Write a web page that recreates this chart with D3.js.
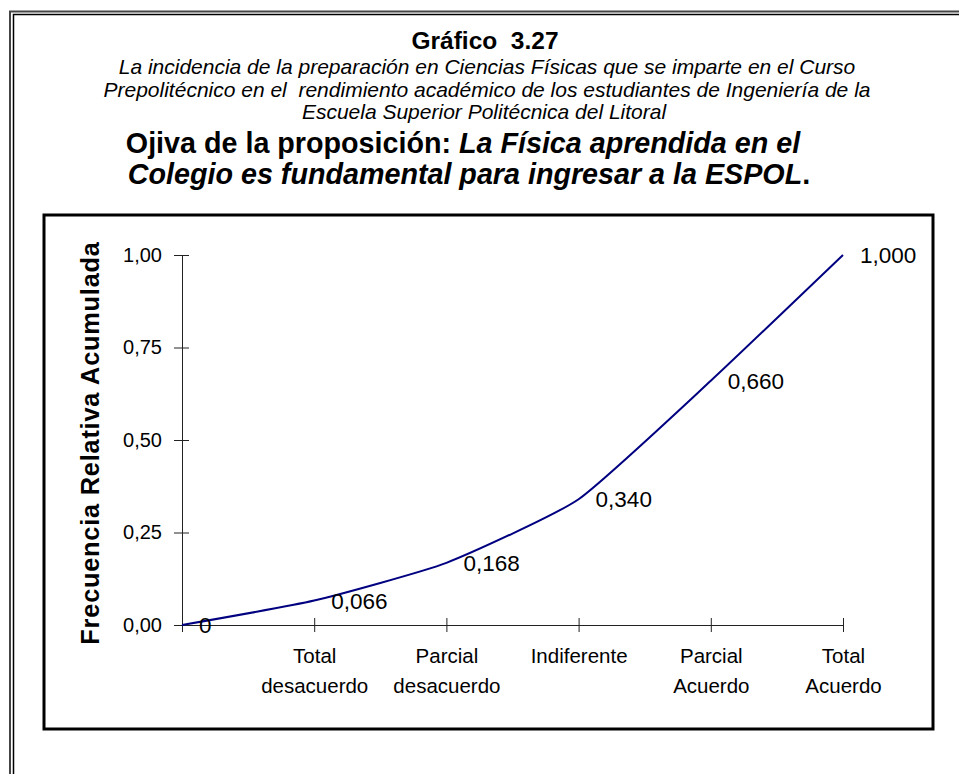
<!DOCTYPE html>
<html>
<head>
<meta charset="utf-8">
<script src="https://cdn.jsdelivr.net/npm/d3@7"></script>
<style>
  body { margin: 0; background: #fff; }
  svg { display: block; font-family: "Liberation Sans", Arial, sans-serif; }
</style>
</head>
<body>
<svg id="chart"></svg>
<script>
// cumulative relative frequency (ojiva)
const categories = ["", "Total|desacuerdo", "Parcial|desacuerdo", "Indiferente", "Parcial|Acuerdo", "Total|Acuerdo"];
const values = [0, 0.066, 0.168, 0.340, 0.660, 1.000];
const valueLabels = ["0", "0,066", "0,168", "0,340", "0,660", "1,000"];
const yTicks = [0, 0.25, 0.5, 0.75, 1];

const width = 959, height = 774;
const svg = d3.select("#chart").attr("width", width).attr("height", height);

// outer double frame (runs off the page on the right and bottom)
svg.append("rect").attr("x", 10).attr("y", 11.5).attr("width", 1000).attr("height", 1000)
  .attr("fill", "none").attr("stroke", "#444").attr("stroke-width", 2);
svg.append("rect").attr("x", 13.5).attr("y", 14.5).attr("width", 1000).attr("height", 1000)
  .attr("fill", "none").attr("stroke", "#000").attr("stroke-width", 1.5);

// titles
const titles = svg.append("g").attr("text-anchor", "middle").attr("fill", "#000");
titles.append("text").attr("x", 485).attr("y", 49)
  .attr("font-size", 24.5).attr("font-weight", "bold")
  .style("white-space", "pre").text("Gráfico  3.27");
const sub = [
  "La incidencia de la preparación en Ciencias Físicas que se imparte en el Curso",
  "Prepolitécnico en el  rendimiento académico de los estudiantes de Ingeniería de la",
  "Escuela Superior Politécnica del Litoral"
];
sub.forEach((s, i) => {
  titles.append("text").attr("x", i == 2 ? 484 : 487).attr("y", 74 + i * 22.5)
    .attr("font-size", 21).attr("font-style", "italic")
    .style("white-space", "pre").text(s);
});
const t1 = titles.append("text").attr("x", 463).attr("y", 153)
  .attr("font-size", 28.7).attr("font-weight", "bold");
t1.append("tspan").text("Ojiva de la proposición: ");
t1.append("tspan").attr("font-style", "italic").text("La Física aprendida en el");
const t2 = titles.append("text").attr("x", 469).attr("y", 184)
  .attr("font-size", 28.7).attr("font-weight", "bold");
t2.append("tspan").attr("font-style", "italic").text("Colegio es fundamental para ingresar a la ESPOL");
t2.append("tspan").text(".");

// chart box
svg.append("rect").attr("x", 44).attr("y", 215).attr("width", 889).attr("height", 514)
  .attr("fill", "#fff").attr("stroke", "#000").attr("stroke-width", 3);

const x = d3.scalePoint().domain(categories).range([182, 843]);
const y = d3.scaleLinear().domain([0, 1]).range([625, 255]);

// y axis
const yAxis = svg.append("g").attr("transform", "translate(182,0)")
  .call(d3.axisLeft(y).tickValues(yTicks).tickSizeInner(8).tickSizeOuter(0)
    .tickPadding(12).tickFormat(d => d3.format(".2f")(d).replace(".", ",")));
yAxis.selectAll(".tick line").attr("x1", 7);
yAxis.selectAll("line, path").attr("stroke", "#222");
yAxis.selectAll("text").attr("font-size", 20).attr("font-family", null).attr("fill", "#000");

// x axis
const xAxis = svg.append("g").attr("transform", "translate(0,625)")
  .call(d3.axisBottom(x).tickSizeInner(7).tickSizeOuter(0).tickFormat(""));
xAxis.selectAll(".tick line").attr("y1", -7);
xAxis.selectAll("line, path").attr("stroke", "#222");
xAxis.selectAll(".tick").each(function (d) {
  const parts = d.split("|");
  const t = d3.select(this).select("text").text(null)
    .attr("font-size", 20.5).attr("font-family", null).attr("fill", "#000").attr("y", 0).attr("dy", null);
  parts.forEach((p, i) => {
    t.append("tspan").attr("x", 0).attr("y", 38 + i * 30).text(p);
  });
});

// y axis title
svg.append("text").attr("transform", "translate(99,443) rotate(-90)")
  .attr("text-anchor", "middle").attr("font-size", 25.3).attr("font-weight", "bold")
  .attr("letter-spacing", 0.8).text("Frecuencia Relativa Acumulada");

// ojiva line
const pts = categories.map((c, i) => ({ c, v: values[i], lab: valueLabels[i] }));
const line = d3.line().x(d => x(d.c)).y(d => y(d.v)).curve(d3.curveCardinal.tension(0.5));
svg.append("path").datum(pts).attr("d", line)
  .attr("fill", "none").attr("stroke", "#000080").attr("stroke-width", 2);

// data labels
svg.append("g").selectAll("text").data(pts).join("text")
  .attr("x", d => x(d.c) + 17).attr("y", d => y(d.v)).attr("dy", "0.36em")
  .attr("font-size", 22.5).attr("fill", "#000").text(d => d.lab);
</script>
</body>
</html>
